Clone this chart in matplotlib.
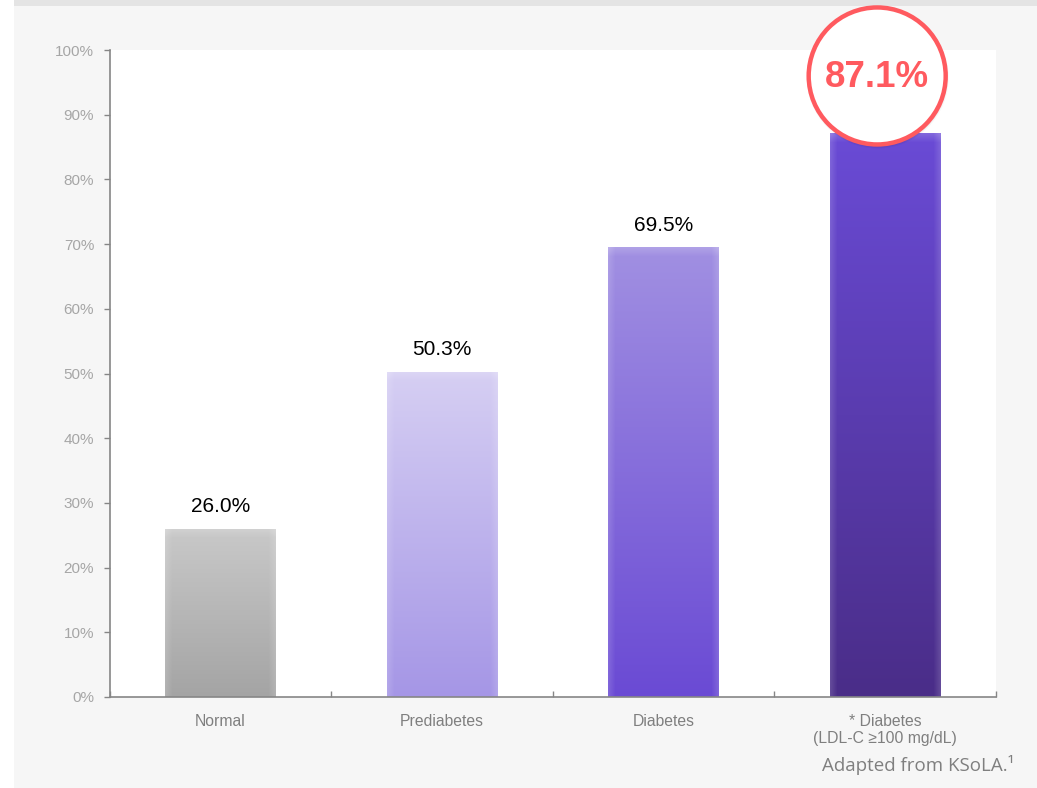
import numpy as np
import matplotlib
matplotlib.use("Agg")
import matplotlib.pyplot as plt
from matplotlib import transforms as mtransforms
from matplotlib.patches import Rectangle, Circle
from matplotlib.colors import to_rgb

# Share of patients above LDL-C target by glycaemic status
categories = ["Normal", "Prediabetes", "Diabetes", "* Diabetes\n(LDL-C \u2265100 mg/dL)"]
values = [26.0, 50.3, 69.5, 87.1]
value_labels = ["26.0%", "50.3%", "69.5%", "87.1%"]
y_ticks = [0, 10, 20, 30, 40, 50, 60, 70, 80, 90, 100]
y_tick_labels = [f"{t}%" for t in y_ticks]

# gradient end colours (top, bottom) for each bar
bar_top_colors = ["#c9c9c9", "#d6cff3", "#a190e2", "#6a4bd6"]
bar_bottom_colors = ["#a4a4a4", "#a596e6", "#6a4ad4", "#4a2d88"]

W, H, DPI = 1037, 788, 100
fig = plt.figure(figsize=(W / DPI, H / DPI), dpi=DPI, facecolor="white")
plt.rcParams["font.family"] = ["Liberation Sans", "DejaVu Sans"]

# slide panel and top band
fig.patches.append(Rectangle((14 / W, 0), 1 - 14 / W, 1, transform=fig.transFigure,
                             facecolor="#f6f6f6", edgecolor="none", zorder=-2))
fig.patches.append(Rectangle((14 / W, 1 - 5.5 / H), 1 - 14 / W, 5.5 / H, transform=fig.transFigure,
                             facecolor="#e4e4e4", edgecolor="none", zorder=-1))

left, right, top, bottom = 109.5, 996, 50, 697
ax = fig.add_axes([left / W, 1 - bottom / H, (right - left) / W, (bottom - top) / H])
ax.set_zorder(1)
ax.set_facecolor("white")
ax.set_xlim(-0.5, len(categories) - 0.5)
ax.set_ylim(0, 100)

bar_w = 0.5
x = np.arange(len(categories))
bars = ax.bar(x, values, width=bar_w, color="none", edgecolor="none", zorder=2)

px_per_unit_x = (right - left) / len(categories)
px_per_unit_y = (bottom - top) / 100.0
pad = 4  # extra pixels around each gradient image, trimmed by the bar clip
for rect, val, ctop, cbot in zip(bars, values, bar_top_colors, bar_bottom_colors):
    x0 = rect.get_x()
    wpx = int(round(bar_w * px_per_unit_x))
    hpx = int(round(val * px_per_unit_y))
    t = np.clip((np.arange(-pad, hpx + pad) + 0.5) / hpx, 0, 1)[:, None, None]
    c0 = np.array(to_rgb(ctop))[None, None, :]
    c1 = np.array(to_rgb(cbot))[None, None, :]
    img = c0 * (1 - t) + c1 * t
    img = np.repeat(img, wpx + 2 * pad, axis=1)
    # soft bevel: lighter rim along the sides and top
    cols = np.arange(-pad, wpx + pad)
    dx = np.clip(np.minimum(cols, wpx - 1 - cols), 0, None)[None, :, None]
    dy = np.clip(np.arange(-pad, hpx + pad), 0, None)[:, None, None]
    rim = 0.14 * np.clip(1 - dx / 7.0, 0, 1) + 0.16 * np.clip(1 - dy / 9.0, 0, 1)
    rim = np.clip(rim, 0, 0.28)
    img = img + (1 - img) * rim
    ex = pad / px_per_unit_x
    ey = pad / px_per_unit_y
    im = ax.imshow(img, extent=(x0 - ex, x0 + bar_w + ex, -ey, val + ey), aspect="auto",
                   interpolation="nearest", zorder=2)
    im.set_clip_path(rect)

ax.set_xlim(-0.5, len(categories) - 0.5)
ax.set_ylim(0, 100)

# value labels above the first three bars
for xi, val, lab in zip(x[:-1], values[:-1], value_labels[:-1]):
    ax.annotate(lab, (xi, val), xytext=(0, 16), textcoords="offset points",
                ha="center", va="center", fontsize=15, color="black", zorder=4)

# highlighted value in a ring over the last bar
anchor = mtransforms.ScaledTranslation(x[-1], values[-1], ax.transData)
ring_tr = fig.dpi_scale_trans + anchor
for r, a in [(0.71, 0.03), (0.70, 0.04), (0.69, 0.05)]:
    ax.add_patch(Circle((-0.075, 0.56), r, transform=ring_tr, facecolor="#000000",
                        alpha=a, edgecolor="none", clip_on=False, zorder=5))
ring = Circle((-0.08, 0.575), 0.685, transform=ring_tr, facecolor="white",
              edgecolor="#ff5a5f", linewidth=3.2, clip_on=False, zorder=6)
ax.add_patch(ring)
ax.text(-0.08, 0.56, value_labels[-1], transform=ring_tr, ha="center", va="center",
        fontsize=26.5, fontweight="bold", color="#ff5a5f", zorder=7)

# axes styling
for s in ("top", "right"):
    ax.spines[s].set_visible(False)
for s in ("left", "bottom"):
    ax.spines[s].set_color("#868686")
    ax.spines[s].set_linewidth(1.2)

ax.set_yticks(y_ticks)
ax.set_yticklabels(y_tick_labels)
ax.tick_params(axis="y", length=4, width=1, color="#868686", labelsize=11,
               labelcolor="#a6a6a6", pad=7)

ax.set_xticks(x)
ax.set_xticklabels(categories, linespacing=1.2)
ax.tick_params(axis="x", which="major", length=0, labelsize=11.3, labelcolor="#7f7f7f", pad=12)
ax.set_xticks(np.arange(len(categories) + 1) - 0.5, minor=True)
ax.tick_params(axis="x", which="minor", direction="in", length=4, width=1, color="#868686")

fig.text(822 / W, 1 - 771 / H, "Adapted from KSoLA.\u00b9", fontsize=13.5,
         family=["Open Sans", "DejaVu Sans"], color="#7f7f7f", ha="left", va="baseline")

fig.savefig("out.png", dpi=DPI, facecolor=fig.get_facecolor())
